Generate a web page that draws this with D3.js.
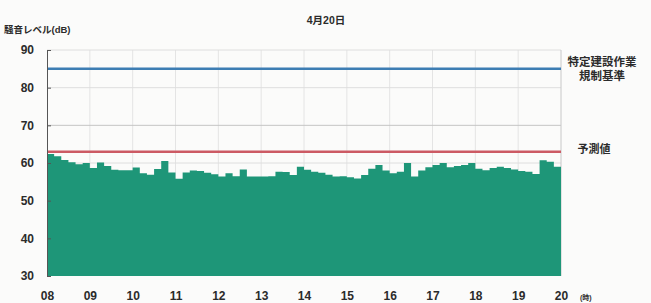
<!DOCTYPE html>
<meta charset="utf-8">
<style>
  body { margin: 0; background: #fbfbfa; }
  svg { display: block; }
  text { font-family: "Liberation Sans", "Noto Sans CJK JP", sans-serif; font-weight: bold; fill: #2b2b2b; }
</style>
<svg width="651" height="303" class="noise"></svg>
<script src="https://d3js.org/d3.v7.min.js"></script>
<script>
// 10-minute noise levels (dB), 08:00 -> 20:00
const levels = [
  62.4, 61.8, 60.8, 60.2, 59.7, 60.0, 58.7, 60.1, 59.2, 58.2, 58.1, 58.1,
  58.8, 57.3, 56.9, 58.4, 60.5, 57.5, 55.8, 57.5, 58.0, 57.9, 57.4, 57.0,
  56.4, 57.3, 56.5, 58.3, 56.4, 56.4, 56.4, 56.5, 57.7, 57.6, 56.8, 59.0,
  58.2, 57.7, 57.4, 56.9, 56.4, 56.5, 56.2, 55.9, 56.8, 58.5, 59.5, 58.0,
  57.3, 57.7, 60.0, 56.4, 58.0, 58.9, 59.5, 60.0, 58.9, 59.2, 59.5, 60.0,
  58.5, 58.1, 58.7, 59.0, 58.7, 58.3, 57.9, 57.7, 57.1, 60.7, 60.3, 59.0
];
const hours = ["08", "09", "10", "11", "12", "13", "14", "15", "16", "17", "18", "19", "20"];
const yTicks = [30, 40, 50, 60, 70, 80, 90];
const regLimit = 85;   // 特定建設作業規制基準
const predicted = 63;  // 予測値

const svg = d3.select("svg.noise");
const margin = {top: 50, left: 47, right: 90, bottom: 27};
const width = 651 - margin.left - margin.right,
      height = 303 - margin.top - margin.bottom;
const g = svg.append("g").attr("transform", "translate(" + margin.left + "," + margin.top + ")");

const x = d3.scaleLinear().domain([8, 20]).range([0, width]);
const y = d3.scaleLinear().domain([30, 90]).range([height, 0]);

// grid
g.append("g").selectAll("line").data(d3.range(9, 20))
  .enter().append("line")
  .attr("x1", d => x(d)).attr("x2", d => x(d))
  .attr("y1", 0).attr("y2", height)
  .attr("stroke", "#e4e4e4");
g.append("g").selectAll("line").data(yTicks.slice(1))
  .enter().append("line")
  .attr("x1", 0).attr("x2", width)
  .attr("y1", d => y(d)).attr("y2", d => y(d))
  .attr("stroke", d => d === 70 ? "#c4c4c4" : "#dedede");
g.append("line")
  .attr("x1", width).attr("x2", width).attr("y1", 0).attr("y2", height)
  .attr("stroke", "#c8c8c8");

// area
const pts = levels.map((v, i) => ({t: 8 + i / 6, v: v}));
pts.push({t: 20, v: levels[levels.length - 1]});
const area = d3.area()
  .curve(d3.curveStepAfter)
  .x(d => x(d.t))
  .y0(y(30))
  .y1(d => y(d.v));
g.append("path")
  .attr("d", area(pts))
  .attr("fill", "#1e9678");

// reference lines
g.append("line")
  .attr("x1", 0).attr("x2", width)
  .attr("y1", y(regLimit)).attr("y2", y(regLimit))
  .attr("stroke", "#3d7db3").attr("stroke-width", 2.5);
g.append("line")
  .attr("x1", 0).attr("x2", width)
  .attr("y1", y(predicted)).attr("y2", y(predicted))
  .attr("stroke", "#cc5a64").attr("stroke-width", 2.5);

// axes
const yAxis = g.append("g")
  .call(d3.axisLeft(y).tickValues(yTicks).tickSize(-4).tickPadding(13).tickFormat(d3.format("d")));
yAxis.select(".domain").attr("stroke", "#555");
yAxis.selectAll(".tick line").attr("stroke", "#555");
yAxis.selectAll("text").style("font-size", "12px").attr("fill", "#2b2b2b");

const xAxis = g.append("g")
  .attr("transform", "translate(0," + height + ")")
  .call(d3.axisBottom(x).tickValues(d3.range(8, 21)).tickSize(0).tickPadding(15)
    .tickFormat((d, i) => hours[i]));
xAxis.select(".domain").remove();
xAxis.selectAll("text").style("font-size", "12px").attr("fill", "#2b2b2b");

// texts
svg.append("text").attr("x", 326).attr("y", 24).attr("text-anchor", "middle")
  .style("font-size", "10.5px").text("4月20日");
svg.append("text").attr("x", 4).attr("y", 33)
  .style("font-size", "9.5px").text("騒音レベル(dB)");
svg.append("text").attr("x", 580).attr("y", 300)
  .style("font-size", "7px").text("(時)");
svg.append("text").attr("x", 602).attr("y", 66).attr("text-anchor", "middle")
  .style("font-size", "11.5px").text("特定建設作業");
svg.append("text").attr("x", 602).attr("y", 80).attr("text-anchor", "middle")
  .style("font-size", "11.5px").text("規制基準");
svg.append("text").attr("x", 594).attr("y", 153).attr("text-anchor", "middle")
  .style("font-size", "11px").text("予測値");
</script>
